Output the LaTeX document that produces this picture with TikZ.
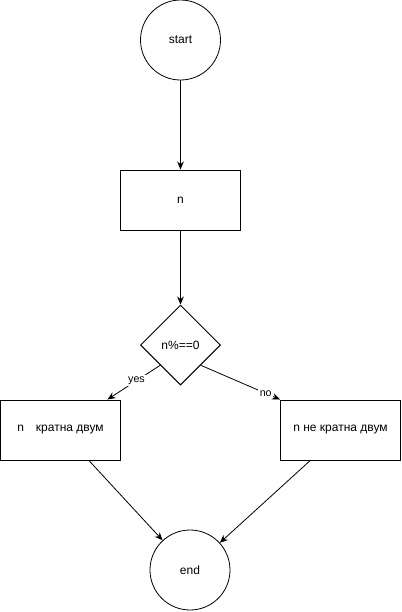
\documentclass[tikz,border=0pt]{standalone}
\usepackage{fontspec}
\setmainfont{Liberation Sans}
\usepackage{tikz}
\usetikzlibrary{arrows.meta, positioning, shapes.geometric, calc}

\begin{document}
\begin{tikzpicture}[
    x=0.75pt, y=-0.75pt,
    every node/.style={font=\fontsize{9}{11}\selectfont},
    term/.style={circle, draw, line width=0.6pt, minimum size=60pt, inner sep=0pt},
    block/.style={rectangle, draw, line width=0.75pt, minimum width=90pt, minimum height=45pt},
    decision/.style={diamond, draw, line width=0.75pt, minimum width=60pt, minimum height=60pt, inner sep=0pt},
    flow/.style={-{Stealth[length=6pt, width=5pt]}, line width=0.6pt},
    lbl/.style={font=\fontsize{8}{10}\selectfont, fill=white, inner sep=1pt}
]
    \useasboundingbox (0,0) rectangle (402,612);

    % Start
    \node[term] (start) at (180.5,40) {start};

    % Input
    \node[block] (inp) at (180.5,200) {n};

    % Check
    \node[decision] (chk) at (180.5,345) {n\%==0};

    % Outcomes
    \node[block] (yesbox) at (60.5,430) {n\quad кратна двум};
    \node[block] (nobox) at (340.5,430) {n не кратна двум};

    % End
    \node[term] (stop) at (190,570) {end};

    % Connectors
    \draw[flow] (start) -- (inp);
    \draw[flow] (inp) -- (chk);
    \draw[flow] (chk.south west) -- (yesbox) node[lbl, pos=0.45] {yes};
    \draw[flow] (chk.south east) -- (nobox.north west) node[lbl, pos=0.82] {no};
    \draw[flow] ($(yesbox.south)!0.47!(yesbox.south east)$) -- (stop);
    \draw[flow] ($(nobox.south)!0.5!(nobox.south west)$) -- (stop);

\end{tikzpicture}
\end{document}
